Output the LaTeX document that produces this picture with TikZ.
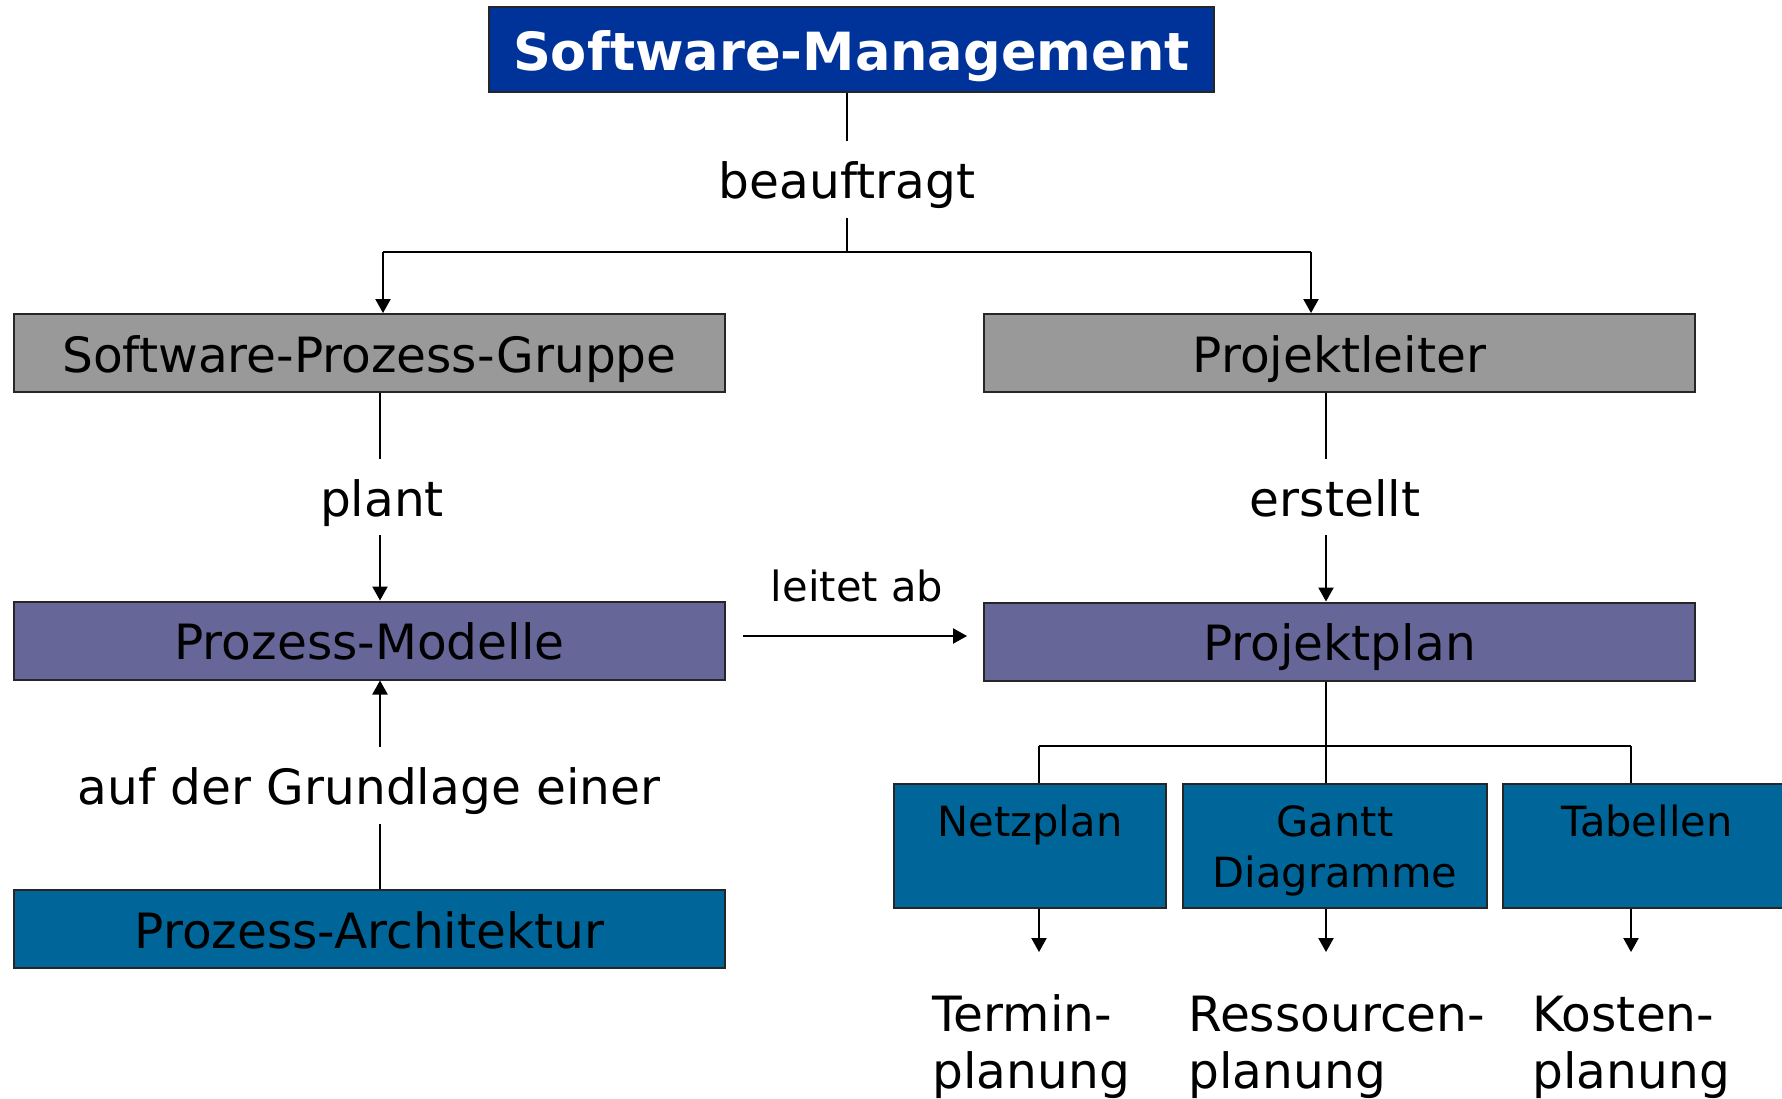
\documentclass[tikz,border=0pt]{standalone}
\usepackage{fontspec}
\setmainfont{DejaVu Sans}
\usetikzlibrary{arrows.meta}
\definecolor{smblue}{HTML}{003399}
\definecolor{boxgray}{HTML}{999999}
\definecolor{boxpurple}{HTML}{666699}
\definecolor{boxteal}{HTML}{006699}
\begin{document}
\begin{tikzpicture}[x=0.5pt,y=-0.5pt,
  box/.style={draw=black!85, line width=1pt, inner sep=0pt, minimum height=39pt, minimum width=355.5pt, text height=21.7pt, text depth=2.6pt, font=\fontsize{24.3}{28.5}\selectfont},
  smallbox/.style={draw=black!85, line width=1pt, inner sep=0pt, minimum height=62pt, fill=boxteal, align=center, font=\fontsize{20.8}{25.5}\selectfont},
  lbl/.style={inner sep=0pt, minimum height=38pt, text height=21.7pt, text depth=2.6pt, font=\fontsize{24.3}{28.5}\selectfont},
  bottomtext/.style={anchor=north west, inner sep=0pt, align=left, font=\fontsize{24.3}{28.5}\selectfont},
  conn/.style={line width=0.8pt},
  arr/.style={conn, -{Triangle[length=7pt,width=7.6pt]}},
]
\useasboundingbox (0,0) rectangle (1782,1098);
\clip (0,0) rectangle (1782,1098);

% boxes
\node[box, fill=smblue, minimum width=362.5pt, minimum height=42.5pt, text=white, text height=23.6pt, text depth=2.6pt, font=\bfseries\fontsize{26.3}{30}\selectfont] (sm) at (851.5,49.5) {Software-Management};
\node[box, fill=boxgray] (spg) at (369.5,353) {Software-Prozess-Gruppe};
\node[box, fill=boxgray] (pl) at (1339.5,353) {Projektleiter};
\node[box, fill=boxpurple] (pm) at (369.5,640.5) {Prozess-Modelle};
\node[box, fill=boxpurple] (pp) at (1339.5,641.5) {Projektplan};
\node[box, fill=boxteal] (pa) at (369.5,929) {Prozess-Architektur};
\node[smallbox, minimum width=136pt] (np) at (1030,846) {\rule{0pt}{24.1pt}Netzplan\\\strut};
\node[smallbox, minimum width=152pt] (gd) at (1335,846) {\rule{0pt}{24.1pt}Gantt\\\strut Diagramme};
\node[smallbox, minimum width=144pt] (tb) at (1647,846) {\rule{0pt}{24.1pt}Tabellen\\\strut};

% top: beauftragt
\node[lbl] (bf) at (847,179.5) {beauftragt};
\coordinate (ja) at (383,252);
\coordinate (J) at (847,252);
\coordinate (jb) at (1311,252);
\draw[conn] (sm.south -| bf) -- (bf.north);
\draw[conn] (bf.south) -- (J);
\draw[conn] (ja) -- (jb);
\draw[arr] (ja) -- (ja |- spg.north);
\draw[arr] (jb) -- (jb |- pl.north);

% plant
\node[lbl] (plant) at (382,497) {plant};
\draw[conn] ([xshift=-1pt]plant.north |- spg.south) -- ([xshift=-1pt]plant.north);
\draw[arr] ([xshift=-1pt]plant.south) -- ([xshift=-1pt]plant.south |- pm.north);

% erstellt
\node[lbl] (erst) at (1335,497) {erstellt};
\draw[conn] ([xshift=-4.5pt]erst.north |- pl.south) -- ([xshift=-4.5pt]erst.north);
\draw[arr] ([xshift=-4.5pt]erst.south) -- ([xshift=-4.5pt]erst.south |- pp.north);

% auf der Grundlage einer
\node[lbl] (afg) at (369,785.5) {auf der Grundlage einer};
\draw[arr] ([xshift=5.5pt]afg.north) -- ([xshift=5.5pt]afg.north |- pm.south);
\draw[conn] ([xshift=5.5pt]afg.south |- pa.north) -- ([xshift=5.5pt]afg.south);

% leitet ab
\node[inner sep=0pt, font=\fontsize{20.8}{25.5}\selectfont] (la) at (857,586) {leitet ab};
\coordinate (l1) at (743,636);
\coordinate (l2) at (967,636);
\draw[arr] (l1) -- (l2);

% subtree of Projektplan
\coordinate (s1) at (1039,746);
\coordinate (s0) at (1326,746);
\coordinate (s2) at (1631,746);
\draw[conn] (pp.south -| s0) -- (s0 |- gd.north);
\draw[conn] (s1) -- (s2);
\draw[conn] (s1) -- (s1 |- np.north);
\draw[conn] (s2) -- (s2 |- tb.north);

% bottom arrows and texts
\coordinate (b1) at (1039,952);
\coordinate (b2) at (1326,952);
\coordinate (b3) at (1631,952);
\draw[arr] (b1 |- np.south) -- (b1);
\draw[arr] (b2 |- gd.south) -- (b2);
\draw[arr] (b3 |- tb.south) -- (b3);
\node[bottomtext] (tp) at (932,991) {\strut Termin-\\\strut planung};
\node[bottomtext] (rp) at (1188,991) {\strut Ressourcen-\\\strut planung};
\node[bottomtext] (kp) at (1532,991) {\strut Kosten-\\\strut planung};
\end{tikzpicture}
\end{document}
